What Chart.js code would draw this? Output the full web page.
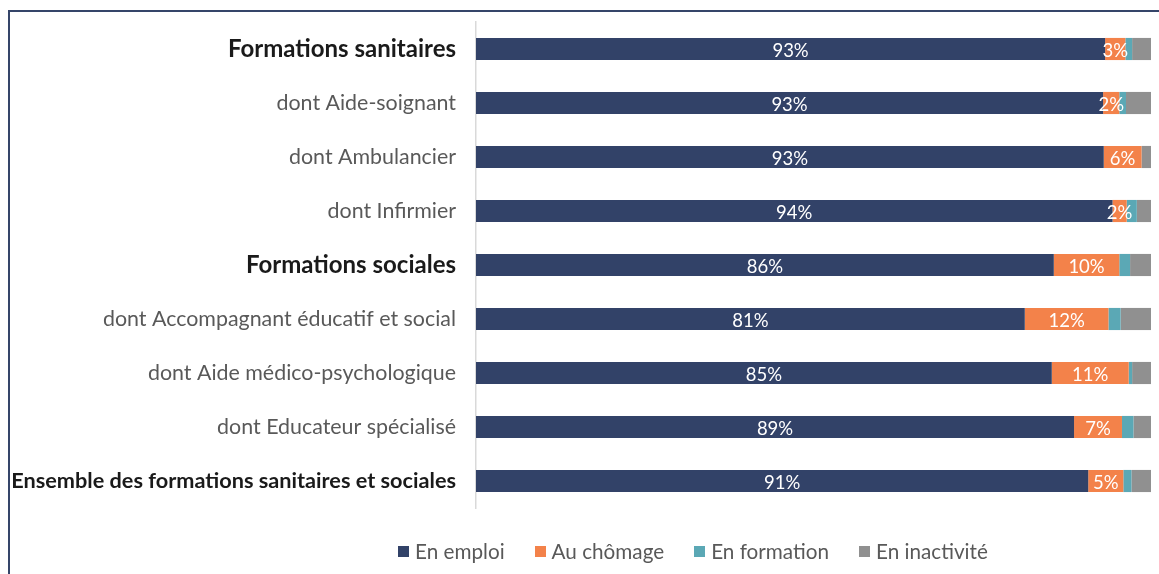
<!DOCTYPE html>
<html lang="fr">
<head>
<meta charset="utf-8">
<script src="https://cdn.jsdelivr.net/npm/chart.js@4"></script>
<style>
    body { margin: 0; background: #fff; }
    #wrap { position: relative; width: 1159px; height: 574px; overflow: hidden; }
    #frame { position: absolute; left: 8px; top: 10px; width: 1200px; height: 600px;
             border-left: 2px solid #354569; border-top: 2px solid #354569; }
    #box { position: absolute; left: 0; top: 0; width: 1159px; height: 574px; }
    #legend { position: absolute; left: 398px; top: 539px; display: flex; align-items: center;
              font-family: Lato, sans-serif; font-size: 20.7px; color: #595959; }
    #legend span.item { display: flex; align-items: center; margin-right: 30px; }
    #legend i { display: inline-block; width: 11px; height: 11px; margin-right: 6px; }
</style>
</head>
<body>
<div id="wrap">
    <div id="frame"></div>
    <div id="box"><canvas id="chart_1"></canvas></div>
    <div id="legend"></div>
</div>
<script>
const categories = ['Formations sanitaires', 'dont Aide-soignant', 'dont Ambulancier', 'dont Infirmier',
    'Formations sociales', 'dont Accompagnant éducatif et social', 'dont Aide médico-psychologique',
    'dont Educateur spécialisé', 'Ensemble des formations sanitaires et sociales'];
const boldRows = [0, 4, 8];

const emploi     = [93.2, 92.9, 93.0, 94.3, 85.6, 81.3, 85.3, 88.6, 90.7];
const chomage    = [3.0, 2.4, 5.6, 2.1, 9.7, 12.4, 11.4, 7.1, 5.2];
const formation  = [1.0, 1.0, 0, 1.5, 1.6, 1.8, 0.5, 1.7, 1.2];
const inactivite = [2.8, 3.7, 1.4, 2.1, 3.1, 4.5, 2.8, 2.6, 2.9];

// labels only on the first two series
const barLabels = {
    id: 'barLabels',
    afterDatasetsDraw(chart) {
        const ctx = chart.ctx;
        ctx.save();
        ctx.font = '18.5px Lato';
        ctx.fillStyle = '#ffffff';
        ctx.textAlign = 'center';
        ctx.textBaseline = 'middle';
        [0, 1].forEach(function (d) {
            const meta = chart.getDatasetMeta(d);
            meta.data.forEach(function (bar, i) {
                const v = chart.data.datasets[d].data[i];
                ctx.fillText(Math.round(v) + '%', (bar.x + bar.base) / 2, bar.y + 2);
            });
        });
        ctx.restore();
    }
};

function tickFont(c) {
    if (c.index === 8) return { family: 'Lato', size: 21.7, weight: 'bold' };
    if (boldRows.includes(c.index)) return { family: 'Lato', size: 24, weight: 'bold' };
    return { family: 'Lato', size: 21.4 };
}

const chart = new Chart(document.getElementById('chart_1'), {
    type: 'bar',
    data: {
        labels: categories,
        datasets: [
            { label: 'En emploi', data: emploi, backgroundColor: '#324268' },
            { label: 'Au chômage', data: chomage, backgroundColor: '#f3824a' },
            { label: 'En formation', data: formation, backgroundColor: '#5ba8b5' },
            { label: 'En inactivité', data: inactivite, backgroundColor: '#909090' }
        ]
    },
    options: {
        indexAxis: 'y',
        responsive: true,
        maintainAspectRatio: false,
        animation: false,
        barPercentage: 0.41,
        categoryPercentage: 1,
        layout: { padding: { left: 8, top: 22, right: 8, bottom: 66 } },
        scales: {
            x: { stacked: true, min: 0, max: 100, display: false },
            y: {
                stacked: true,
                grid: { display: false, drawTicks: false },
                border: { display: true, color: '#d9d9d9', width: 1.5 },
                afterFit: function (scale) {
                    scale.width = 468;
                    scale.paddingTop = 0;
                    scale.paddingBottom = 0;
                },
                ticks: {
                    padding: 20,
                    color: function (c) { return boldRows.includes(c.index) ? '#1a1a1a' : '#595959'; },
                    font: tickFont
                }
            }
        },
        plugins: {
            legend: { display: false },
            tooltip: { enabled: false }
        }
    },
    plugins: [barLabels]
});

const legend = document.getElementById('legend');
chart.data.datasets.forEach(function (ds) {
    const item = document.createElement('span');
    item.className = 'item';
    item.innerHTML = '<i style="background:' + ds.backgroundColor + '"></i>' + ds.label;
    legend.appendChild(item);
});
</script>
</body>
</html>
